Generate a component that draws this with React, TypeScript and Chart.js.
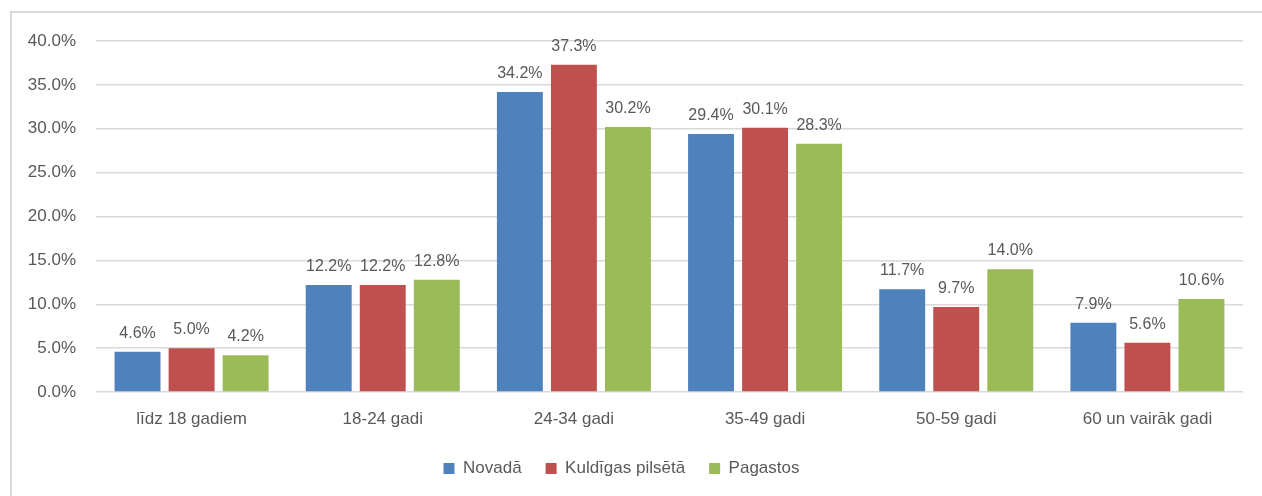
import React, { useEffect, useRef } from "react";
import { Chart, registerables } from "chart.js";

Chart.register(...registerables);

const categories = ["līdz 18 gadiem", "18-24 gadi", "24-34 gadi", "35-49 gadi", "50-59 gadi", "60 un vairāk gadi"];
const seriesNames = ["Novadā", "Kuldīgas pilsētā", "Pagastos"];
const novada = [4.6, 12.2, 34.2, 29.4, 11.7, 7.9];
const kuldigas = [5.0, 12.2, 37.3, 30.1, 9.7, 5.6];
const pagastos = [4.2, 12.8, 30.2, 28.3, 14.0, 10.6];
const colors = ["#4F81BD", "#C0504D", "#9BBB59"];
const yTicks = [0, 5, 10, 15, 20, 25, 30, 35, 40];

const FONT = "'Liberation Sans', Arial, sans-serif";
const TEXT = "#595959";

const dataLabels = {
  id: "dataLabels",
  afterDatasetsDraw(chart: any) {
    const ctx = chart.ctx;
    ctx.save();
    ctx.font = `16px ${FONT}`;
    ctx.fillStyle = TEXT;
    ctx.textAlign = "center";
    ctx.textBaseline = "alphabetic";
    chart.data.datasets.forEach((ds: any, di: number) => {
      const meta = chart.getDatasetMeta(di);
      meta.data.forEach((bar: any, i: number) => {
        ctx.fillText(ds.data[i].toFixed(1) + "%", bar.x, bar.y - 14);
      });
    });
    ctx.restore();
  },
};

export default function App() {
  const ref = useRef<HTMLCanvasElement>(null);
  useEffect(() => {
    if (!ref.current) return;
    const all = [novada, kuldigas, pagastos];
    const chart = new Chart(ref.current, {
      type: "bar",
      data: {
        labels: categories,
        datasets: all.map((d, i) => ({
          label: seriesNames[i],
          data: d,
          backgroundColor: colors[i],
          borderWidth: 0,
          barPercentage: 0.85,
          categoryPercentage: 0.848,
        })),
      },
      options: {
        responsive: false,
        animation: false,
        maintainAspectRatio: false,
        layout: { padding: { left: 0, top: 41, right: 19, bottom: 9 } },
        plugins: {
          tooltip: { enabled: false },
          legend: {
            position: "bottom",
            labels: {
              boxWidth: 11,
              boxHeight: 11,
              padding: 24,
              color: TEXT,
              font: { family: FONT, size: 17 },
            },
          },
        },
        scales: {
          x: {
            grid: { display: false, drawTicks: false },
            border: { display: false },
            ticks: { color: TEXT, font: { family: FONT, size: 17 }, padding: 17 },
            afterFit(scale: any) { scale.height = 44; },
          },
          y: {
            min: 0,
            max: 40,
            afterBuildTicks(scale: any) { scale.ticks = yTicks.map((v) => ({ value: v })); },
            grid: { color: "#D9D9D9", lineWidth: 1.5, drawTicks: false },
            border: { display: false },
            ticks: {
              color: TEXT,
              font: { family: FONT, size: 17 },
              padding: 20,
              callback: (v: any) => Number(v).toFixed(1) + "%",
            },
            afterFit(scale: any) { scale.width = 96; },
          },
        },
      },
      plugins: [dataLabels],
    });
    return () => chart.destroy();
  }, []);
  return (
    <div style={{ position: "fixed", left: 0, top: 0, width: 1262, height: 496, background: "#fff", overflow: "hidden" }}>
      <div style={{ position: "absolute", left: 10, top: 11, width: 1300, height: 600, borderLeft: "2px solid #D9D9D9", borderTop: "2px solid #D9D9D9" }} />
      <canvas ref={ref} width={1262} height={496} style={{ position: "absolute", left: 0, top: 0 }} />
    </div>
  );
}
